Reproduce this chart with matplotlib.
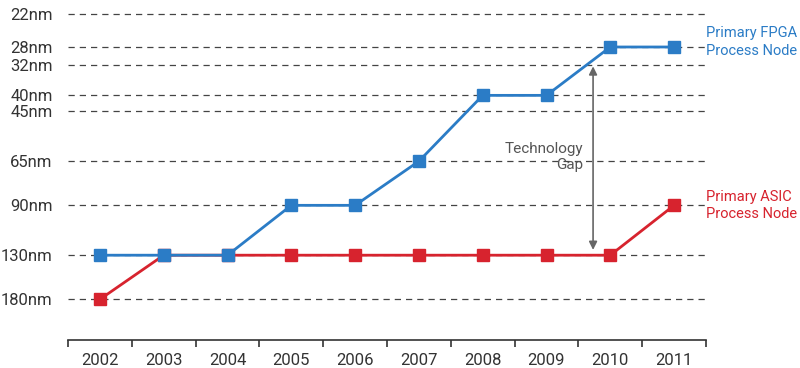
import matplotlib.pyplot as plt

plt.rcParams['font.family'] = ['Roboto', 'DejaVu Sans']

years = ["2002", "2003", "2004", "2005", "2006", "2007", "2008", "2009", "2010", "2011"]
nodes = [22, 28, 32, 40, 45, 65, 90, 130, 180]
node_labels = ["22nm", "28nm", "32nm", "40nm", "45nm", "65nm", "90nm", "130nm", "180nm"]
fpga = [130, 130, 130, 90, 90, 65, 40, 40, 28, 28]
asic = [180, 130, 130, 130, 130, 130, 130, 130, 130, 90]

blue = "#2b7cc6"
red = "#d7232e"
grey = "#333333"

fig = plt.figure(figsize=(8, 3.68), dpi=100)
ax = fig.add_axes([0.085, 0.076, 0.7975, 0.924])

x = list(range(len(years)))

# dashed guide lines at each node
for n in nodes:
    ax.axhline(n, color="#444444", lw=0.9, ls=(0, (5, 4)), zorder=1)

ax.plot(x, asic, color=red, lw=2, marker="s", ms=9, zorder=3)
ax.plot(x, fpga, color=blue, lw=2, marker="s", ms=9, zorder=4)

ax.set_yscale("log")
ax.set_ylim(243, 19.8)
ax.set_xlim(-0.5, 9.5)
ax.minorticks_off()
ax.set_yticks(nodes)
ax.set_yticklabels(node_labels, fontsize=12, color=grey)
ax.tick_params(axis="y", length=0, pad=11)

ax.set_xticks(x)
ax.set_xticklabels(years, fontsize=12, color=grey)
ax.set_xticks([i - 0.5 for i in range(len(years) + 1)], minor=True)
ax.tick_params(axis="x", which="major", length=0, pad=9)
ax.tick_params(axis="x", which="minor", length=5, width=1.2, color=grey)

for s in ["top", "right", "left"]:
    ax.spines[s].set_visible(False)
ax.spines["bottom"].set_color(grey)
ax.spines["bottom"].set_linewidth(1.2)

# technology gap arrow
ax.annotate("", xy=(7.73, 32.3), xytext=(7.73, 125),
            arrowprops=dict(arrowstyle="<|-|>", color="#666666", lw=1.2,
                            mutation_scale=12, shrinkA=0, shrinkB=0), zorder=2)
ax.text(7.57, 63, "Technology\nGap", ha="right", va="center", fontsize=11,
        color="#555555", linespacing=1.2)

ax.text(9.5, 27, "Primary FPGA\nProcess Node", ha="left", va="center",
        fontsize=10.5, color=blue, linespacing=1.3, clip_on=False)
ax.text(9.5, 90, "Primary ASIC\nProcess Node", ha="left", va="center",
        fontsize=10.5, color=red, linespacing=1.3, clip_on=False)

fig.savefig("out.png", dpi=100)
